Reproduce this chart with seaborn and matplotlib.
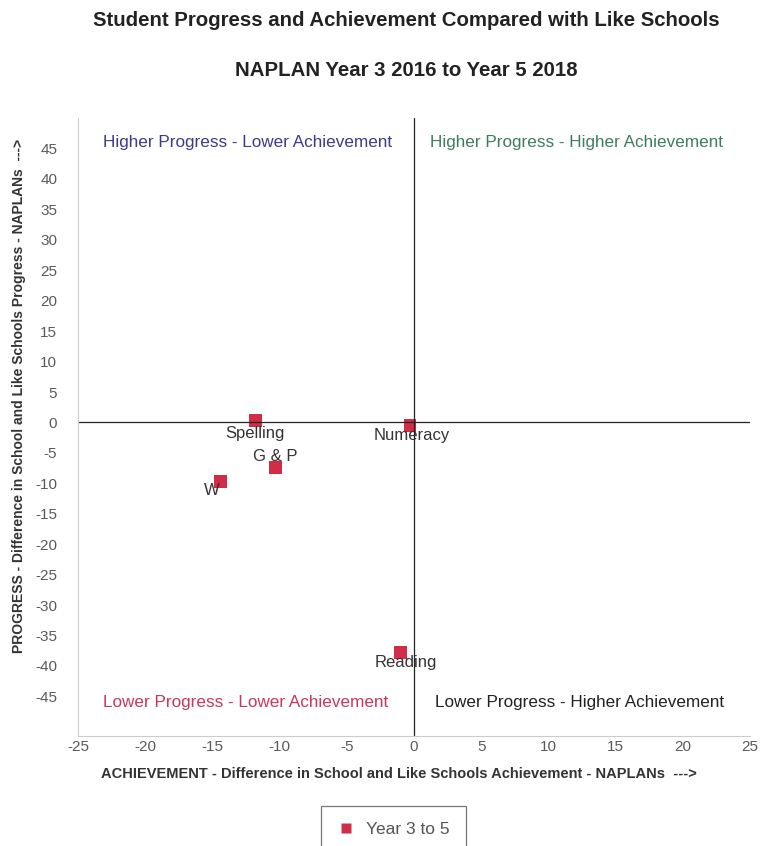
import pandas as pd
import matplotlib.pyplot as plt
import seaborn as sns

# values
domains = ['Spelling', 'Numeracy', 'G & P', 'W', 'Reading']
achievement = [-11.8, -0.3, -10.3, -14.4, -1.0]
progress = [0.3, -0.5, -7.4, -9.7, -37.8]
series = 'Year 3 to 5'

df = pd.DataFrame({'domain': domains, 'achievement': achievement,
                   'progress': progress, 'series': series})

sns.set_style('white')
plt.rcParams['font.family'] = ['Liberation Sans', 'DejaVu Sans']
plt.rcParams['axes.unicode_minus'] = False

fig = plt.figure(figsize=(7.61, 8.46), dpi=100)
ax = fig.add_axes([0.1025, 0.130, 0.883, 0.7305])

red = '#d12d47'
sns.scatterplot(data=df, x='achievement', y='progress', hue='series',
                palette=[red], marker='s', s=80, edgecolor='none', ax=ax)

ax.axhline(0, color='#222222', lw=0.9, zorder=1)
ax.axvline(0, color='#222222', lw=0.9, zorder=1)

ax.set_xlim(-25, 25)
ax.set_ylim(-51.5, 50)
ax.set_xticks(range(-25, 26, 5))
ax.set_yticks(range(-45, 46, 5))
ax.tick_params(axis='both', colors='#5a5a5a', labelsize=11, length=0)
ax.tick_params(axis='x', pad=3)
ax.tick_params(axis='y', pad=15)
for side in ['top', 'right']:
    ax.spines[side].set_visible(False)
for side in ['left', 'bottom']:
    ax.spines[side].set_color('#cccccc')
    ax.spines[side].set_linewidth(0.8)

# point labels (offsets in points)
offsets = {'Spelling': (0, -9),
           'Numeracy': (1.5, -7.5),
           'G & P': (0, 8),
           'W': (-6, -6.5),
           'Reading': (3.6, -7)}
for d, x, y in zip(domains, achievement, progress):
    dx, dy = offsets[d]
    ax.annotate(d, (x, y), xytext=(dx, dy), textcoords='offset points',
                ha='center', va='center', fontsize=12, color='#333333')

# quadrant captions
ax.text(-12.4, 46, 'Higher Progress - Lower Achievement', ha='center', va='center',
        fontsize=12.3, color='#3b3b8e')
ax.text(12.1, 46, 'Higher Progress - Higher Achievement', ha='center', va='center',
        fontsize=12.3, color='#3d7d5e')
ax.text(-12.5, -46, 'Lower Progress - Lower Achievement', ha='center', va='center',
        fontsize=12.3, color='#c8375a')
ax.text(12.3, -46, 'Lower Progress - Higher Achievement', ha='center', va='center',
        fontsize=12.3, color='#222222')

ax.set_xlabel('ACHIEVEMENT - Difference in School and Like Schools Achievement - NAPLANs  --->',
              fontsize=10.5, fontweight='bold', color='#333333', va='top')
ax.xaxis.set_label_coords(0.478, -0.05)
ax.set_ylabel('PROGRESS - Difference in School and Like Schools Progress - NAPLANs  --->',
              fontsize=10, fontweight='bold', color='#333333')
ax.yaxis.set_label_coords(-0.077, 0.55)

fig.text(0.534, 0.976, 'Student Progress and Achievement Compared with Like Schools',
         ha='center', va='center', fontsize=14.7, fontweight='bold', color='#222222')
fig.text(0.534, 0.917, 'NAPLAN Year 3 2016 to Year 5 2018',
         ha='center', va='center', fontsize=14.7, fontweight='bold', color='#222222')

leg = ax.legend(loc='upper center', bbox_to_anchor=(0.517, 0.047),
                bbox_transform=fig.transFigure, frameon=True, fancybox=False,
                fontsize=12.5, borderpad=0.9, borderaxespad=0, handlelength=1.0,
                handletextpad=0.7, markerscale=0.8)
leg.get_frame().set_edgecolor('#555555')
leg.get_frame().set_linewidth(0.9)
for t in leg.get_texts():
    t.set_color('#555555')

fig.savefig('out.png', dpi=100)
